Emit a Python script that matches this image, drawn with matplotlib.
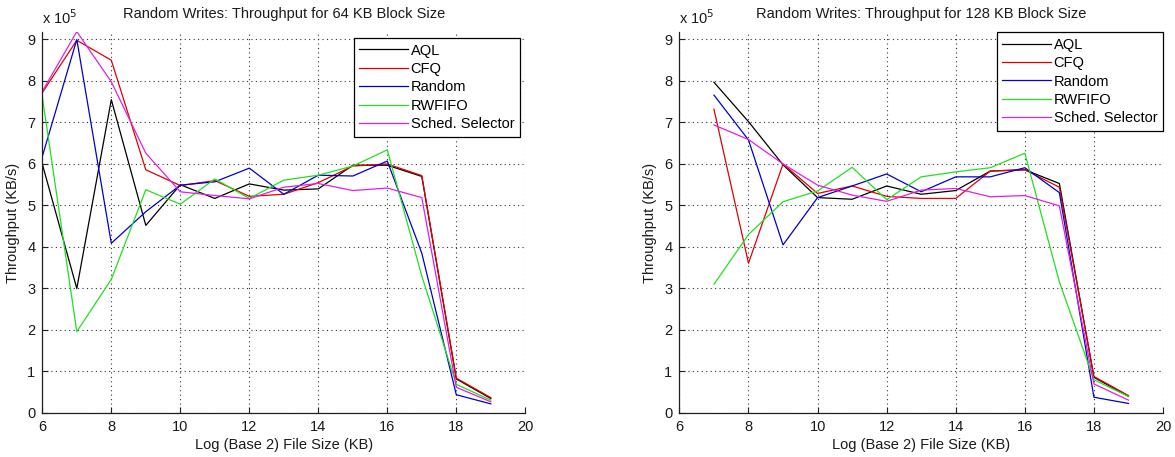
import matplotlib
matplotlib.use("Agg")
import matplotlib.pyplot as plt
from matplotlib.ticker import FuncFormatter

plt.rcParams['font.family'] = ['Liberation Sans', 'DejaVu Sans']

SCALE = 1e5  # values below are in units of 10^5 KB/s

series_names = ["AQL", "CFQ", "Random", "RWFIFO", "Sched. Selector"]
series_colors = ["#000000", "#e00000", "#0000d0", "#20e020", "#e020e0"]

# ---- 64 KB block size ----
x64 = [6, 7, 8, 9, 10, 11, 12, 13, 14, 15, 16, 17, 18, 19]
aql_64 = [6.0, 3.0, 7.55, 4.52, 5.5, 5.17, 5.52, 5.37, 5.4, 5.97, 5.97, 5.7, 0.82, 0.35]
cfq_64 = [7.72, 8.98, 8.5, 5.86, 5.48, 5.6, 5.22, 5.27, 5.55, 5.95, 6.0, 5.72, 0.84, 0.37]
random_64 = [6.18, 9.0, 4.09, 4.85, 5.49, 5.57, 5.9, 5.27, 5.73, 5.71, 6.07, 3.85, 0.44, 0.22]
rwfifo_64 = [7.62, 1.96, 3.22, 5.38, 5.03, 5.64, 5.17, 5.61, 5.73, 5.95, 6.34, 3.3, 0.69, 0.31]
sched_64 = [7.75, 9.19, 7.98, 6.26, 5.33, 5.24, 5.16, 5.44, 5.53, 5.36, 5.42, 5.19, 0.62, 0.27]

# ---- 128 KB block size ----
x128 = [7, 8, 9, 10, 11, 12, 13, 14, 15, 16, 17, 18, 19]
aql_128 = [7.97, 7.02, 5.98, 5.19, 5.15, 5.47, 5.27, 5.36, 5.83, 5.86, 5.53, 0.86, 0.4]
cfq_128 = [7.32, 3.61, 6.0, 5.29, 5.47, 5.22, 5.17, 5.17, 5.83, 5.86, 5.44, 0.88, 0.42]
random_128 = [7.66, 6.58, 4.05, 5.19, 5.47, 5.76, 5.33, 5.69, 5.69, 5.91, 5.31, 0.38, 0.23]
rwfifo_128 = [3.1, 4.3, 5.09, 5.35, 5.92, 5.14, 5.69, 5.81, 5.91, 6.26, 3.16, 0.8, 0.4]
sched_128 = [6.94, 6.59, 6.0, 5.49, 5.25, 5.1, 5.37, 5.41, 5.21, 5.24, 4.99, 0.7, 0.31]

titles = ["Random Writes: Throughput for 64 KB Block Size",
          "Random Writes: Throughput for 128 KB Block Size"]
xlabel = "Log (Base 2) File Size (KB)"
ylabel = "Throughput (KB/s)"
x_ticks = [6, 8, 10, 12, 14, 16, 18, 20]
y_ticks = [0, 1, 2, 3, 4, 5, 6, 7, 8, 9]

W, H = 1175, 457
fig = plt.figure(figsize=(W / 100, H / 100), dpi=100)

panels = [
    (x64, [aql_64, cfq_64, random_64, rwfifo_64, sched_64], 42.3, 525.3, (0.989, 0.985)),
    (x128, [aql_128, cfq_128, random_128, rwfifo_128, sched_128], 679.4, 1163.0, (1.0, 1.0)),
]

top_px, bot_px = 32.0, 413.0
FS = 10.5
txt_col = "#1a1a1a"

for i, (xs, ys_list, lpx, rpx, leg_anchor) in enumerate(panels):
    ax = fig.add_axes([lpx / W, 1 - bot_px / H, (rpx - lpx) / W, (bot_px - top_px) / H])
    for name, col, ys in zip(series_names, series_colors, ys_list):
        ax.plot(xs, [v * SCALE for v in ys], color=col, lw=0.9, label=name)
    ax.set_xlim(6, 20)
    ax.set_ylim(0, 9.18 * SCALE)
    ax.set_xticks(x_ticks)
    ax.set_yticks([t * SCALE for t in y_ticks])
    ax.yaxis.set_major_formatter(FuncFormatter(lambda v, p: f"{v / SCALE:g}"))
    ax.grid(True, color="#333333", linestyle=(0, (1, 3)), linewidth=0.8)
    for s in ["top", "right"]:
        ax.spines[s].set_visible(False)
    for s in ["left", "bottom"]:
        ax.spines[s].set_color("#202020")
        ax.spines[s].set_linewidth(0.9)
    ax.tick_params(direction="in", length=4, width=0.8, labelsize=FS,
                   colors="#202020", labelcolor=txt_col, pad=5)
    ax.set_title(titles[i], fontsize=FS, color=txt_col, pad=10)
    ax.set_xlabel(xlabel, fontsize=FS, color=txt_col, labelpad=3)
    ax.set_ylabel(ylabel, fontsize=FS, color=txt_col, labelpad=5)
    ax.text(0.0, 1.012, r"x 10$^5$", transform=ax.transAxes, fontsize=FS,
            color=txt_col, ha="left", va="bottom")
    leg = ax.legend(loc="upper right", bbox_to_anchor=leg_anchor, borderaxespad=0,
                    fontsize=FS, frameon=True, fancybox=False, framealpha=1,
                    edgecolor="#000000", handlelength=3.3, handletextpad=0.2,
                    labelspacing=0.3, borderpad=0.4)
    leg.get_frame().set_linewidth(0.9)

fig.savefig("out.png", dpi=100)
